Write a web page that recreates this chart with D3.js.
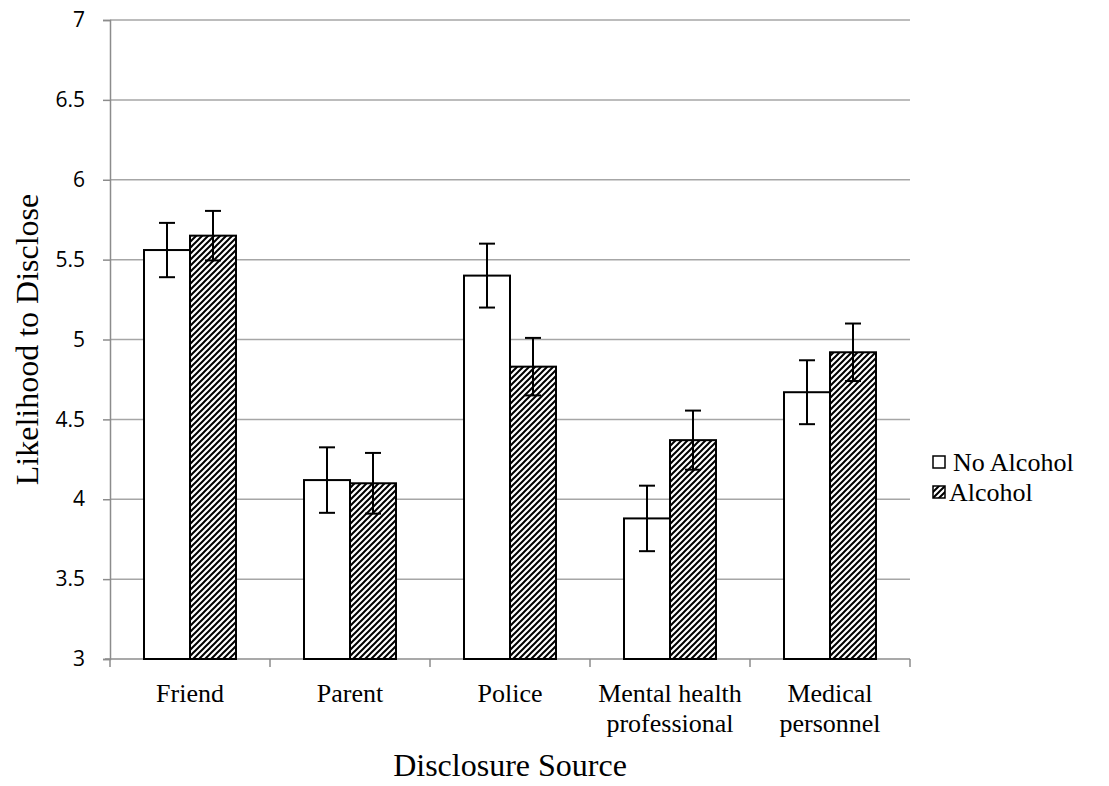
<!DOCTYPE html>
<html>
<head>
<meta charset="utf-8">
<script src="https://cdn.jsdelivr.net/npm/d3@7"></script>
<style>
body { margin: 0; background: #fff; }
</style>
</head>
<body>
<script>
var categories = ["Friend", "Parent", "Police", "Mental health|professional", "Medical|personnel"];
var series = ["No Alcohol", "Alcohol"];
var noAlcohol = [5.56, 4.12, 5.40, 3.88, 4.67];
var alcohol = [5.65, 4.10, 4.83, 4.37, 4.92];
var noAlcoholErr = [0.17, 0.205, 0.2, 0.205, 0.2];
var alcoholErr = [0.155, 0.19, 0.18, 0.185, 0.18];
var yTicks = [3, 3.5, 4, 4.5, 5, 5.5, 6, 6.5, 7];

var width = 1109, height = 786;
var plotLeft = 110, plotRight = 910, plotTop = 20, plotBottom = 659;
var serif = "'Liberation Serif', 'Times New Roman', serif";

var svg = d3.select("body").append("svg")
.attr("width", width)
.attr("height", height);

var defs = svg.append("defs");
var pat = defs.append("pattern")
.attr("id", "hatch")
.attr("patternUnits", "userSpaceOnUse")
.attr("width", 6)
.attr("height", 6);
pat.append("rect").attr("width", 6).attr("height", 6).attr("fill", "#fff");
pat.append("path")
.attr("d", "M0,6L6,0M-1,1L1,-1M5,7L7,5")
.attr("stroke", "#000")
.attr("stroke-width", 2);

var x = d3.scaleBand().domain(categories).range([plotLeft, plotRight]);
var x1 = d3.scaleBand().domain(series).range([0, 92]);
var y = d3.scaleLinear().domain([3, 7]).range([plotBottom, plotTop]);

// gridlines
svg.append("g")
.selectAll("line")
.data(yTicks.slice(1))
.enter().append("line")
.attr("x1", plotLeft).attr("x2", plotRight)
.attr("y1", function(d) { return y(d); })
.attr("y2", function(d) { return y(d); })
.attr("stroke", "#a6a6a6")
.attr("stroke-width", 1.5);

// y axis
var yAxis = svg.append("g")
.attr("transform", "translate(" + plotLeft + ",0)")
.call(d3.axisLeft(y).tickValues(yTicks).tickSize(7).tickPadding(18)
  .tickFormat(function(d) { return d; }));
yAxis.select(".domain").attr("stroke", "#8c8c8c").attr("stroke-width", 1.5);
yAxis.selectAll(".tick line").attr("stroke", "#8c8c8c").attr("stroke-width", 1.5);
yAxis.selectAll("text")
.attr("font-family", "'Open Sans', 'DejaVu Sans', sans-serif")
.attr("font-size", 21)
.attr("fill", "#000");

// x axis
var xAxis = svg.append("g")
.attr("transform", "translate(0," + plotBottom + ")");
xAxis.append("line")
.attr("x1", plotLeft - 5).attr("x2", plotRight)
.attr("stroke", "#8c8c8c").attr("stroke-width", 1.5);
xAxis.selectAll("line.tk")
.data(d3.range(categories.length + 1))
.enter().append("line")
.attr("class", "tk")
.attr("x1", function(i) { return plotLeft + i * x.bandwidth(); })
.attr("x2", function(i) { return plotLeft + i * x.bandwidth(); })
.attr("y1", 0).attr("y2", 8)
.attr("stroke", "#8c8c8c").attr("stroke-width", 1.5);

var labels = xAxis.selectAll("text.cat")
.data(categories)
.enter().append("text")
.attr("class", "cat")
.attr("x", function(d) { return x(d) + x.bandwidth() / 2; })
.attr("y", 43)
.attr("text-anchor", "middle")
.attr("font-family", serif)
.attr("font-size", 26);
labels.each(function(d) {
  var parts = d.split("|");
  var t = d3.select(this);
  parts.forEach(function(p, i) {
    t.append("tspan")
    .attr("x", x(d) + x.bandwidth() / 2)
    .attr("dy", i === 0 ? 0 : 30)
    .text(p);
  });
});

// bars
var groups = svg.append("g")
.selectAll("g")
.data(categories)
.enter().append("g")
.attr("transform", function(d) { return "translate(" + (x(d) + (x.bandwidth() - 92) / 2) + ",0)"; });

function rows(d, i) {
  return [
    {s: series[0], v: noAlcohol[i], e: noAlcoholErr[i]},
    {s: series[1], v: alcohol[i], e: alcoholErr[i]}
  ];
}

groups.selectAll("rect")
.data(rows)
.enter().append("rect")
.attr("x", function(d) { return x1(d.s); })
.attr("y", function(d) { return y(d.v); })
.attr("width", x1.bandwidth())
.attr("height", function(d) { return y(3) - y(d.v); })
.attr("fill", function(d) { return d.s === "Alcohol" ? "url(#hatch)" : "#fff"; })
.attr("stroke", "#000")
.attr("stroke-width", 2);

// error bars
var eb = groups.selectAll("g.err")
.data(rows)
.enter().append("g")
.attr("class", "err")
.attr("transform", function(d) { return "translate(" + (x1(d.s) + x1.bandwidth() / 2) + ",0)"; });
eb.append("line")
.attr("y1", function(d) { return y(d.v + d.e); })
.attr("y2", function(d) { return y(d.v - d.e); })
.attr("stroke", "#000").attr("stroke-width", 2);
eb.append("line")
.attr("x1", -8).attr("x2", 8)
.attr("y1", function(d) { return y(d.v + d.e); })
.attr("y2", function(d) { return y(d.v + d.e); })
.attr("stroke", "#000").attr("stroke-width", 2);
eb.append("line")
.attr("x1", -8).attr("x2", 8)
.attr("y1", function(d) { return y(d.v - d.e); })
.attr("y2", function(d) { return y(d.v - d.e); })
.attr("stroke", "#000").attr("stroke-width", 2);

// legend
var legend = svg.append("g")
.selectAll("g")
.data(series)
.enter().append("g")
.attr("transform", function(d, i) { return "translate(933," + (456 + i * 30) + ")"; });
legend.append("rect")
.attr("width", 12).attr("height", 12)
.attr("fill", function(d) { return d === "Alcohol" ? "url(#hatch)" : "#fff"; })
.attr("stroke", "#000").attr("stroke-width", 1.5);
legend.append("text")
.attr("x", function(d, i) { return i === 0 ? 20 : 16; })
.attr("y", 15)
.attr("font-family", serif)
.attr("font-size", 26)
.text(function(d) { return d; });

// axis titles
svg.append("text")
.attr("transform", "translate(38," + ((plotTop + plotBottom) / 2) + ") rotate(-90)")
.attr("text-anchor", "middle")
.attr("font-family", serif)
.attr("font-size", 32)
.text("Likelihood to Disclose");
svg.append("text")
.attr("x", 510).attr("y", 776)
.attr("text-anchor", "middle")
.attr("font-family", serif)
.attr("font-size", 32)
.text("Disclosure Source");
</script>
</body>
</html>
